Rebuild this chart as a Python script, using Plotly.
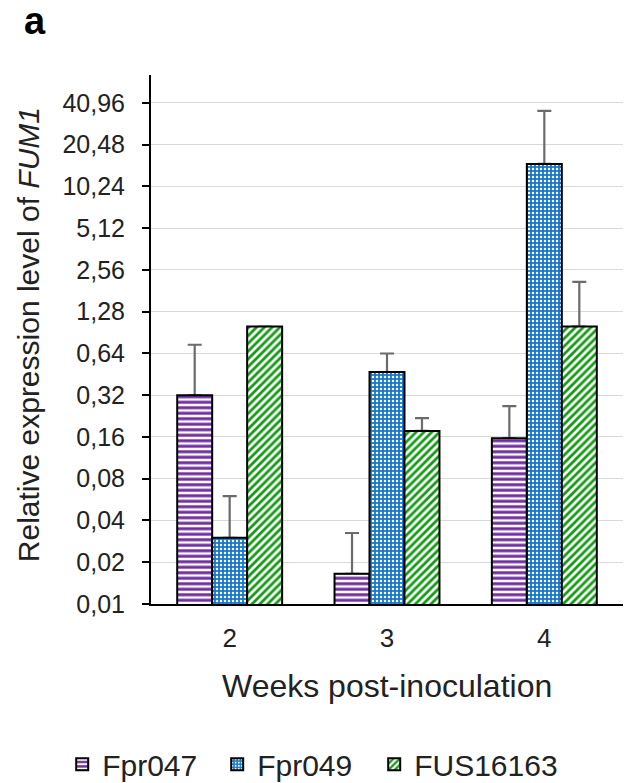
import plotly.graph_objects as go

weeks = ["2", "3", "4"]
fpr047 = [0.32, 0.0165, 0.157]
fpr047_err = [0.42, 0.016, 0.11]
fpr049 = [0.030, 0.47, 14.9]
fpr049_err = [0.030, 0.17, 21.0]
fus16163 = [1.0, 0.177, 1.0]
fus16163_err = [0.0, 0.042, 1.1]

ytick_vals = [0.01, 0.02, 0.04, 0.08, 0.16, 0.32, 0.64, 1.28, 2.56, 5.12, 10.24, 20.48, 40.96]
ytick_text = ["0,01", "0,02", "0,04", "0,08", "0,16", "0,32", "0,64", "1,28", "2,56", "5,12", "10,24", "20,48", "40,96"]

FONT = "Liberation Sans, Arial, sans-serif"
TXT = "#222222"

def err(arr):
    return dict(type="data", symmetric=False, array=arr, arrayminus=[0] * len(arr),
                color="#6b6b6b", thickness=2.2, width=7)

def pat(shape, fg, bg, size, solidity):
    return dict(shape=shape, fgcolor=fg, bgcolor=bg, size=size, solidity=solidity,
                fillmode="replace", fgopacity=1)

series = [
    ("Fpr047", fpr047, fpr047_err, "#7030A0", pat("-", "#7030A0", "white", 5.5, 0.55), "legend"),
    ("Fpr049", fpr049, fpr049_err, "#1578C8", pat(".", "white", "#1578C8", 4, 0.3), "legend2"),
    ("FUS16163", fus16163, fus16163_err, "#129B12", pat("/", "#129B12", "white", 5.5, 0.5), "legend3"),
]

fig = go.Figure()
# error bars first (under the bars, so the lower cap hides under the bar outline)
for i, (name, vals, errs, col, p, lg) in enumerate(series):
    fig.add_trace(go.Bar(
        name=name + "_err", x=weeks, y=vals, offsetgroup=str(i), error_y=err(errs),
        marker=dict(color="rgba(0,0,0,0)", line=dict(width=0)),
        showlegend=False, hoverinfo="skip",
    ))
for i, (name, vals, errs, col, p, lg) in enumerate(series):
    fig.add_trace(go.Bar(
        name=name, x=weeks, y=vals, offsetgroup=str(i), legend=lg,
        marker=dict(color=col, line=dict(color="black", width=2), pattern=p),
    ))

def leg(x):
    return dict(orientation="h", xref="container", yref="container", x=x, y=0.024,
                xanchor="left", yanchor="middle", font=dict(size=30, color=TXT),
                itemwidth=30, bgcolor="rgba(0,0,0,0)")

fig.update_layout(
    width=625, height=783,
    margin=dict(l=151, r=2, t=75, b=179),
    paper_bgcolor="white", plot_bgcolor="white",
    barmode="group", bargap=0.333, bargroupgap=0,
    font=dict(family=FONT, color=TXT, size=24),
    showlegend=True,
    legend=leg(0.0995), legend2=leg(0.3475), legend3=leg(0.5987),
    annotations=[
        dict(text="<b>a</b>", xref="paper", yref="paper", x=-0.273, y=1.102,
             xanchor="left", yanchor="middle", showarrow=False,
             font=dict(size=38, color="black", family=FONT)),
        dict(text="Relative expression level of <i>FUM1</i>", xref="paper", yref="paper",
             x=-0.2606, y=0.510, xanchor="center", yanchor="middle", textangle=-90,
             showarrow=False, font=dict(size=30, color=TXT, family=FONT)),
        dict(text="Weeks post-inoculation", xref="paper", yref="paper",
             x=0.501, y=-0.155, xanchor="center", yanchor="middle",
             showarrow=False, font=dict(size=32, color=TXT, family=FONT)),
    ],
)
fig.update_xaxes(
    type="category", showline=True, linecolor="black", linewidth=2, ticks="",
    tickfont=dict(size=26, color=TXT), ticklabelstandoff=10,
    showgrid=False, zeroline=False,
)
fig.update_yaxes(
    type="log", range=[-2, 1.814], tickvals=ytick_vals, ticktext=ytick_text,
    showline=True, linecolor="black", linewidth=2, ticks="outside", ticklen=7, tickcolor="black", tickwidth=1.5,
    showgrid=True, gridcolor="#d9d9d9", gridwidth=1.2,
    tickfont=dict(size=25, color=TXT), ticklabelstandoff=12,
    zeroline=False,
)

fig.write_html("out.html", config={"displayModeBar": False},
               post_script="document.body.style.margin='0';")
